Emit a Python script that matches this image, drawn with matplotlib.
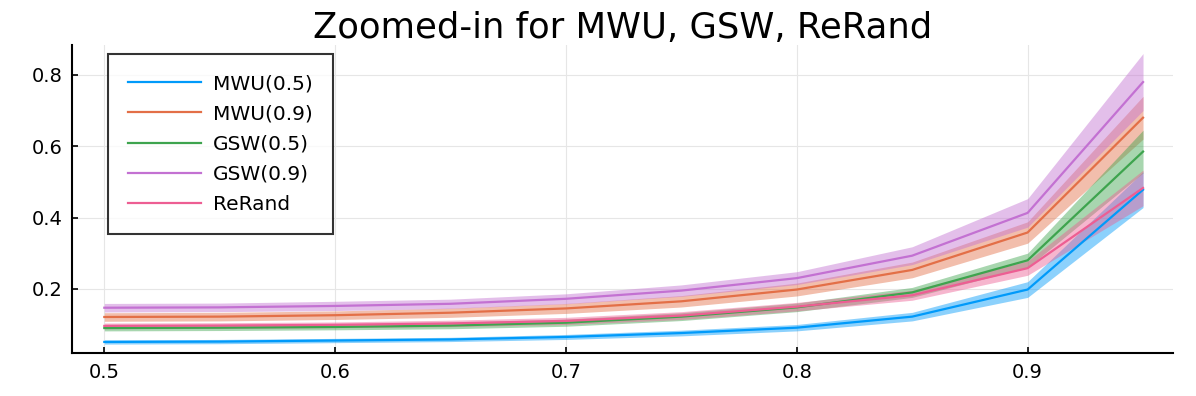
import matplotlib
matplotlib.use("Agg")
import matplotlib.pyplot as plt
import numpy as np

# probability threshold on x axis
thresholds = [0.5, 0.55, 0.6, 0.65, 0.7, 0.75, 0.8, 0.85, 0.9, 0.95]

labels = ["MWU(0.5)", "MWU(0.9)", "GSW(0.5)", "GSW(0.9)", "ReRand"]
colors = ["#009AFA", "#E36F47", "#3EA44E", "#C371D2", "#ED5E93"]

mwu05 = [0.051, 0.052, 0.055, 0.058, 0.065, 0.076, 0.091, 0.122, 0.198, 0.478]
mwu09 = [0.121, 0.122, 0.126, 0.133, 0.145, 0.165, 0.198, 0.253, 0.358, 0.680]
gsw05 = [0.090, 0.091, 0.093, 0.097, 0.105, 0.122, 0.148, 0.190, 0.280, 0.585]
gsw09 = [0.147, 0.148, 0.152, 0.158, 0.172, 0.195, 0.230, 0.293, 0.413, 0.780]
rerand = [0.096, 0.097, 0.099, 0.103, 0.110, 0.125, 0.150, 0.182, 0.258, 0.483]

# ribbon half widths
mwu05_err = [0.006, 0.006, 0.006, 0.006, 0.007, 0.008, 0.009, 0.012, 0.022, 0.050]
mwu09_err = [0.012, 0.012, 0.012, 0.013, 0.014, 0.016, 0.018, 0.022, 0.030, 0.060]
gsw05_err = [0.008, 0.008, 0.008, 0.009, 0.010, 0.011, 0.012, 0.014, 0.020, 0.060]
gsw09_err = [0.012, 0.012, 0.013, 0.013, 0.014, 0.016, 0.018, 0.025, 0.040, 0.080]
rerand_err = [0.008, 0.008, 0.008, 0.009, 0.010, 0.011, 0.012, 0.014, 0.020, 0.050]

series = [mwu05, mwu09, gsw05, gsw09, rerand]
errors = [mwu05_err, mwu09_err, gsw05_err, gsw09_err, rerand_err]

fig = plt.figure(figsize=(11.96, 3.96), dpi=100)
ax = fig.add_axes([0.0602, 0.1086, 0.9206, 0.7778])

x = np.array(thresholds)
for y, e, c, lab in zip(series, errors, colors, labels):
    y = np.array(y)
    e = np.array(e)
    ax.fill_between(x, y - e, y + e, color=c, alpha=0.45, linewidth=0)
    ax.plot(x, y, color=c, linewidth=1.6, label=lab)

ax.set_xlim(0.486, 0.963)
ax.set_ylim(0.02, 0.884)
ax.set_xticks([0.5, 0.6, 0.7, 0.8, 0.9])
ax.set_yticks([0.2, 0.4, 0.6, 0.8])
ax.set_xticklabels(["0.5", "0.6", "0.7", "0.8", "0.9"])
ax.set_yticklabels(["0.2", "0.4", "0.6", "0.8"])
ax.tick_params(direction="in", length=4, width=1.2, labelsize=14, pad=7)
ax.grid(True, color="#e6e6e6", linewidth=0.8)
ax.set_axisbelow(True)
for s in ["top", "right"]:
    ax.spines[s].set_visible(False)
for s in ["left", "bottom"]:
    ax.spines[s].set_linewidth(1.5)

ax.set_title("Zoomed-in for MWU, GSW, ReRand", fontsize=25.5, pad=4)

leg = ax.legend(loc="upper left", bbox_to_anchor=(0.0327, 0.971), borderaxespad=0,
                fontsize=14.5, frameon=True, fancybox=False, edgecolor="black",
                handlelength=3.6, handletextpad=0.6, labelspacing=0.56,
                borderpad=1.0)
leg.get_frame().set_linewidth(1.5)

fig.savefig("out.png", dpi=100)
